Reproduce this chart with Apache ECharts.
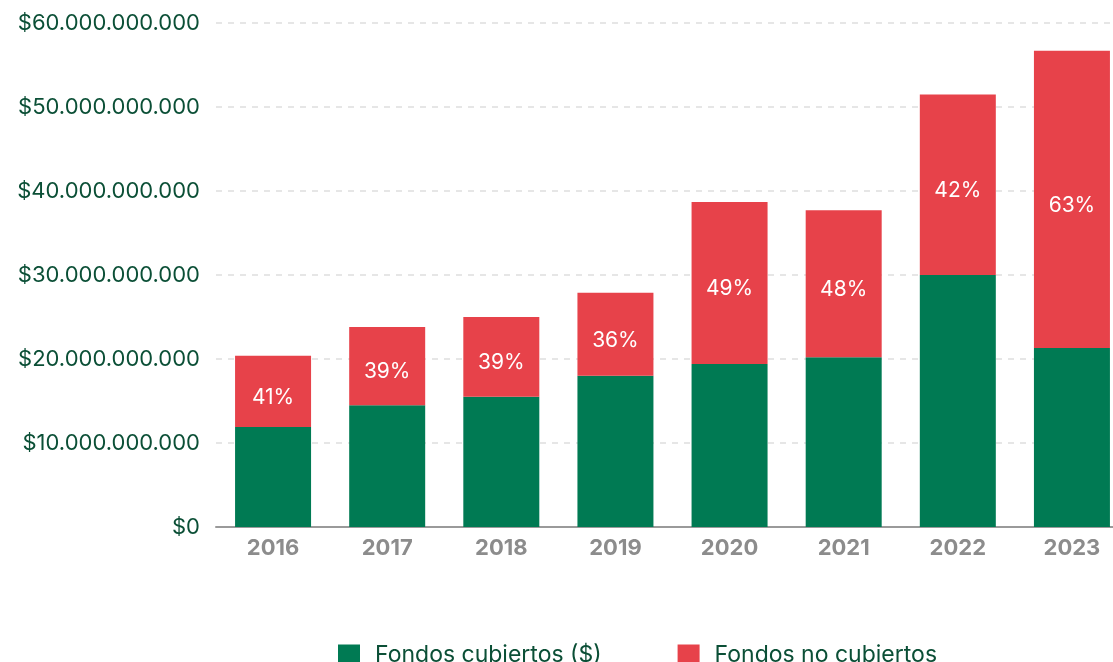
<!DOCTYPE html>
<html>
<head>
<meta charset="utf-8">
<script src="https://cdn.jsdelivr.net/npm/echarts@6/dist/echarts.min.js"></script>
<style>
  html, body { margin: 0; padding: 0; background: #fff; overflow: hidden; }
  #chart { width: 1129px; height: 662px; }
</style>
</head>
<body>
<div id="chart"></div>
<script>
const years = ['2016', '2017', '2018', '2019', '2020', '2021', '2022', '2023']
// valores en miles de millones
const cubiertos = [11.9, 14.5, 15.5, 18.0, 19.4, 20.2, 30.0, 21.3]
const noCubiertos = [8.5, 9.3, 9.5, 9.9, 19.3, 17.5, 21.5, 35.4]
const porcentajes = ['41%', '39%', '39%', '36%', '49%', '48%', '42%', '63%']
const yTicks = [0, 10, 20, 30, 40, 50, 60]

const font = 'Inter, "Open Sans", sans-serif'

function formatPesos(v) {
  if (v === 0) return '$0'
  const n = Math.round(v * 1e9).toString()
  return '$' + n.replace(/\B(?=(\d{3})+(?!\d))/g, '.')
}

// el contenedor es un poco más ancho que la ventana: la última barra queda al borde
const chart = echarts.init(document.getElementById('chart'))
chart.setOption({
  animation: false,
  color: ['#007a53', '#e7424a'],
  grid: {
    left: 216,
    right: 0,
    top: 23,
    bottom: 135
  },
  legend: {
    top: 639,
    left: 333,
    itemWidth: 22,
    itemHeight: 22,
    itemGap: 76,
    icon: 'rect',
    textStyle: {
      color: '#0b4f36',
      fontSize: 23,
      fontFamily: font,
      padding: [0, 0, 0, 10]
    }
  },
  xAxis: {
    type: 'category',
    data: years,
    axisLine: { lineStyle: { color: '#9a9a9a', width: 2 } },
    axisTick: { show: false },
    axisLabel: {
      color: '#8c8c8c',
      fontSize: 22,
      fontWeight: 'bold',
      fontFamily: font,
      margin: 10
    }
  },
  yAxis: {
    type: 'value',
    min: yTicks[0],
    max: yTicks[yTicks.length - 1],
    interval: 10,
    axisLine: { show: false },
    axisTick: { show: false },
    axisLabel: {
      color: '#0b4f36',
      fontSize: 22,
      fontFamily: font,
      margin: 16,
      formatter: formatPesos
    },
    splitLine: {
      lineStyle: { type: [6, 6], color: '#dedede', width: 1.5 }
    }
  },
  series: [
    {
      name: 'Fondos cubiertos ($)',
      type: 'bar',
      stack: 'total',
      barWidth: 76,
      data: cubiertos
    },
    {
      name: 'Fondos no cubiertos',
      type: 'bar',
      stack: 'total',
      barWidth: 76,
      data: noCubiertos,
      label: {
        show: true,
        position: 'inside',
        offset: [0, 6],
        color: '#fff',
        fontSize: 21,
        fontFamily: font,
        formatter: function(p) { return porcentajes[p.dataIndex] }
      }
    }
  ]
})
</script>
</body>
</html>
